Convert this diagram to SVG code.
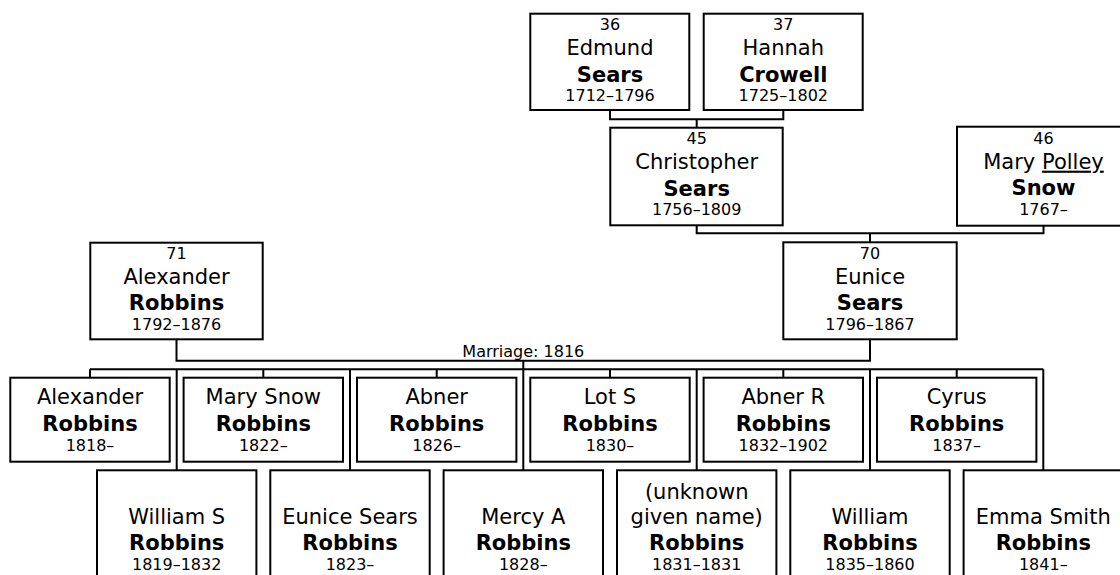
<svg xmlns="http://www.w3.org/2000/svg" width="1120" height="575" viewBox="0 0 1120 575">
<style>
.box{fill:#fff;stroke:#000;stroke-width:2}
.ln{fill:none;stroke:#000;stroke-width:2}
text{font-family:"DejaVu Sans","Liberation Sans",sans-serif;fill:#000;text-anchor:middle}
.s{font-size:16px}
.n{font-size:21px}
.b{font-size:21px;font-weight:bold}
</style>
<rect width="1120" height="575" fill="#fff"/>
<g id="connectors" class="ln">
<path d="M610 110 V119.3 H783.3 V110"/>
<path d="M696.7 119.3 V127.7"/>
<path d="M696.7 225.3 V233.3 H1043.5 V225.7"/>
<path d="M870 233.3 V242.3"/>
<path d="M176.5 339 V360.7 H870 V339"/>
<path d="M523.3 360.7 V369.3"/>
<path d="M90 369.3 H1043.3"/>
<path d="M90 369.3 V377.7 M263.3 369.3 V377.7 M436.7 369.3 V377.7 M610 369.3 V377.7 M783.3 369.3 V377.7 M956.7 369.3 V377.7"/>
<path d="M176.7 369.3 V470.3 M350 369.3 V470.3 M523.3 369.3 V470.3 M696.7 369.3 V470.3 M870 369.3 V470.3 M1043.3 369.3 V470.3"/>
</g>
<g id="p36"><rect class="box" x="530.3" y="13.7" width="159" height="96.3"/>
<text x="610" y="30.2" class="s">36</text><text x="610" y="55.2" class="n">Edmund</text><text x="610" y="81.7" class="b">Sears</text><text x="610" y="101.2" class="s">1712–1796</text></g>
<g id="p37"><rect class="box" x="703.7" y="13.7" width="159" height="96.3"/>
<text x="783.3" y="30.2" class="s">37</text><text x="783.3" y="55.2" class="n">Hannah</text><text x="783.3" y="81.7" class="b">Crowell</text><text x="783.3" y="101.2" class="s">1725–1802</text></g>
<g id="p45"><rect class="box" x="610.3" y="127.7" width="172.4" height="97.6"/>
<text x="696.7" y="144.2" class="s">45</text><text x="696.7" y="169.2" class="n">Christopher</text><text x="696.7" y="195.7" class="b">Sears</text><text x="696.7" y="215.2" class="s">1756–1809</text></g>
<g id="p46"><rect class="box" x="957" y="126.7" width="173" height="99"/>
<text x="1043.5" y="143.5" class="s">46</text><text x="1043.5" y="168.7" class="n">Mary <tspan text-decoration="underline">Polley</tspan></text><text x="1043.5" y="195.2" class="b">Snow</text><text x="1043.5" y="214.7" class="s">1767–</text></g>
<g id="p71"><rect class="box" x="90.3" y="242.7" width="172.4" height="96.6"/>
<text x="176.5" y="258.8" class="s">71</text><text x="176.5" y="283.8" class="n">Alexander</text><text x="176.5" y="310" class="b">Robbins</text><text x="176.5" y="329.8" class="s">1792–1876</text></g>
<g id="p70"><rect class="box" x="783.3" y="242.3" width="173.4" height="97"/>
<text x="870" y="258.8" class="s">70</text><text x="870" y="283.8" class="n">Eunice</text><text x="870" y="310" class="b">Sears</text><text x="870" y="329.8" class="s">1796–1867</text></g>
<text x="523.3" y="356.5" class="s">Marriage: 1816</text>
<g id="c1"><rect class="box" x="10.3" y="377.7" width="159.4" height="84"/>
<text x="90" y="403.8" class="n">Alexander</text><text x="90" y="430.8" class="b">Robbins</text><text x="90" y="450.5" class="s">1818–</text></g>
<g id="c3"><rect class="box" x="183.6" y="377.7" width="159.4" height="84"/>
<text x="263.3" y="403.8" class="n">Mary Snow</text><text x="263.3" y="430.8" class="b">Robbins</text><text x="263.3" y="450.5" class="s">1822–</text></g>
<g id="c5"><rect class="box" x="357" y="377.7" width="159.4" height="84"/>
<text x="436.7" y="403.8" class="n">Abner</text><text x="436.7" y="430.8" class="b">Robbins</text><text x="436.7" y="450.5" class="s">1826–</text></g>
<g id="c7"><rect class="box" x="530.3" y="377.7" width="159.4" height="84"/>
<text x="610" y="403.8" class="n">Lot S</text><text x="610" y="430.8" class="b">Robbins</text><text x="610" y="450.5" class="s">1830–</text></g>
<g id="c9"><rect class="box" x="703.6" y="377.7" width="159.4" height="84"/>
<text x="783.3" y="403.8" class="n">Abner R</text><text x="783.3" y="430.8" class="b">Robbins</text><text x="783.3" y="450.5" class="s">1832–1902</text></g>
<g id="c11"><rect class="box" x="877" y="377.7" width="159.4" height="84"/>
<text x="956.7" y="403.8" class="n">Cyrus</text><text x="956.7" y="430.8" class="b">Robbins</text><text x="956.7" y="450.5" class="s">1837–</text></g>
<g id="c2"><rect class="box" x="97" y="470.3" width="159.4" height="120"/>
<text x="176.7" y="524" class="n">William S</text><text x="176.7" y="550.3" class="b">Robbins</text><text x="176.7" y="570.3" class="s">1819–1832</text></g>
<g id="c4"><rect class="box" x="270.3" y="470.3" width="159.4" height="120"/>
<text x="350" y="524" class="n">Eunice Sears</text><text x="350" y="550.3" class="b">Robbins</text><text x="350" y="570.3" class="s">1823–</text></g>
<g id="c6"><rect class="box" x="443.6" y="470.3" width="159.4" height="120"/>
<text x="523.3" y="524" class="n">Mercy A</text><text x="523.3" y="550.3" class="b">Robbins</text><text x="523.3" y="570.3" class="s">1828–</text></g>
<g id="c8"><rect class="box" x="617" y="470.3" width="159.4" height="120"/>
<text x="696.7" y="498.5" class="n">(unknown</text><text x="696.7" y="524" class="n">given name)</text><text x="696.7" y="550.3" class="b">Robbins</text><text x="696.7" y="570.3" class="s">1831–1831</text></g>
<g id="c10"><rect class="box" x="790.3" y="470.3" width="159.4" height="120"/>
<text x="870" y="524" class="n">William</text><text x="870" y="550.3" class="b">Robbins</text><text x="870" y="570.3" class="s">1835–1860</text></g>
<g id="c12"><rect class="box" x="963.6" y="470.3" width="159.4" height="120"/>
<text x="1043.3" y="524" class="n">Emma Smith</text><text x="1043.3" y="550.3" class="b">Robbins</text><text x="1043.3" y="570.3" class="s">1841–</text></g>
</svg>
